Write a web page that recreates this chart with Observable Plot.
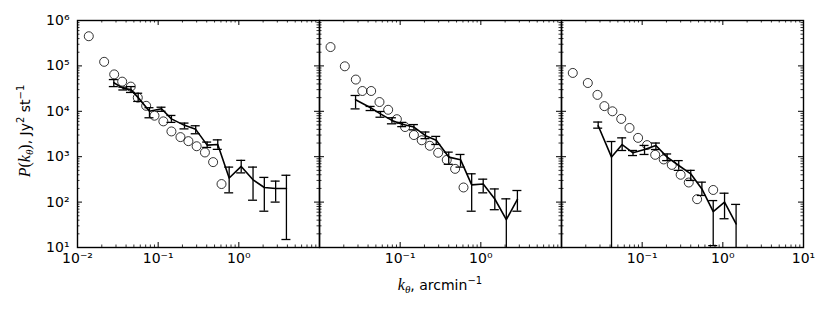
<!DOCTYPE html>
<html><head><meta charset="utf-8">
<script src="https://cdn.jsdelivr.net/npm/d3@7"></script>
<script src="https://cdn.jsdelivr.net/npm/@observablehq/plot@0.6"></script>
<style>body{margin:0;background:#fff}#chart{width:830px;height:311px}</style>
</head><body><div id="chart"></div>
<script>
// ---- data ----
const panels = ["a", "b", "c"];

// panel 1
const k1c = [0.0138, 0.0214, 0.0285, 0.0358, 0.0458, 0.0559, 0.071, 0.090, 0.116, 0.146, 0.189, 0.237, 0.30, 0.38, 0.48, 0.61];
const p1c = [4.5e5, 1.23e5, 6.5e4, 4.5e4, 3.5e4, 2.0e4, 1.32e4, 8.0e3, 6.0e3, 3.6e3, 2.7e3, 2.2e3, 1.7e3, 1.24e3, 7.6e2, 2.5e2];
const k1 = [0.0282, 0.037, 0.046, 0.0565, 0.078, 0.110, 0.146, 0.212, 0.292, 0.405, 0.548, 0.759, 1.07, 1.50, 2.07, 2.86, 3.89];
const p1 = [4.25e4, 3.2e4, 3.0e4, 2.0e4, 1.0e4, 1.14e4, 6.8e3, 4.9e3, 4.0e3, 1.8e3, 1.85e3, 3.4e2, 6.1e2, 3.1e2, 2.1e2, 2.0e2, 2.0e2];
const lo1 = [3.5e4, 2.95e4, 2.6e4, 1.65e4, 7.2e3, 1.0e4, 5.7e3, 4.1e3, 3.2e3, 1.6e3, 1.45e3, 1.6e2, 4.4e2, 1.1e2, 63, 1.0e2, 15];
const hi1 = [5.0e4, 3.4e4, 3.5e4, 2.5e4, 1.2e4, 1.23e4, 8.1e3, 5.5e3, 4.8e3, 2.1e3, 2.35e3, 5.9e2, 8.3e2, 5.9e2, 3.5e2, 2.9e2, 3.9e2];

// panel 2
const k2c = [0.0137, 0.0206, 0.0282, 0.034, 0.0437, 0.0554, 0.071, 0.091, 0.115, 0.148, 0.185, 0.233, 0.296, 0.378, 0.48, 0.61];
const p2c = [2.6e5, 9.8e4, 5.0e4, 2.8e4, 2.8e4, 1.6e4, 1.08e4, 6.7e3, 4.5e3, 3.0e3, 2.3e3, 1.74e3, 1.22e3, 8.5e2, 5.4e2, 2.1e2];
const k2 = [0.028, 0.043, 0.057, 0.079, 0.106, 0.148, 0.206, 0.28, 0.40, 0.56, 0.77, 1.07, 1.49, 2.07, 2.84];
const p2 = [1.8e4, 1.2e4, 8.8e3, 6.3e3, 5.2e3, 4.5e3, 2.9e3, 2.3e3, 9.8e2, 8.6e2, 2.4e2, 2.5e2, 1.17e2, 41, 1.15e2];
const lo2 = [1.13e4, 1.04e4, 7.4e3, 5.3e3, 4.6e3, 3.9e3, 2.5e3, 1.86e3, 6.8e2, 5.9e2, 63, 1.6e2, 68, 1, 63];
const hi2 = [2.23e4, 1.28e4, 9.9e3, 7.2e3, 5.7e3, 5.1e3, 3.5e3, 2.8e3, 1.26e3, 1.12e3, 4.2e2, 3.2e2, 1.95e2, 1.18e2, 1.8e2];

// panel 3
const k3c = [0.0138, 0.0212, 0.0279, 0.034, 0.0428, 0.055, 0.0697, 0.089, 0.115, 0.145, 0.185, 0.233, 0.30, 0.378, 0.48, 0.76];
const p3c = [7.0e4, 4.2e4, 2.3e4, 1.3e4, 1.0e4, 6.8e3, 4.3e3, 2.6e3, 1.8e3, 1.1e3, 8.7e2, 6.6e2, 4.0e2, 2.7e2, 1.16e2, 1.85e2];
const k3 = [0.0285, 0.0417, 0.0565, 0.077, 0.107, 0.148, 0.204, 0.284, 0.40, 0.55, 0.76, 1.05, 1.46];
const p3 = [4.8e3, 9.8e2, 1.85e3, 1.22e3, 1.44e3, 1.77e3, 9.8e2, 6.4e2, 4.2e2, 1.95e2, 62, 1.0e2, 33];
const lo3 = [4.25e3, 1, 1.37e3, 1.06e3, 1.12e3, 1.44e3, 8.2e2, 5.0e2, 3.0e2, 1.4e2, 11, 43, 1];
const hi3 = [5.8e3, 2.16e3, 2.6e3, 1.37e3, 1.77e3, 2.0e3, 1.15e3, 8.2e2, 5.0e2, 2.75e2, 1.08e2, 1.57e2, 89];

// ticks
const xDecades = [0.01, 0.1, 1, 10];
const yDecades = [10, 100, 1000, 1e4, 1e5, 1e6];
const minorMult = [2, 3, 4, 5, 6, 7, 8, 9];
const xTicksA = [0.01, 0.1, 1];
const xTicksB = [0.1, 1];
const xTicksC = [0.1, 1, 10];
const yTicksA = [10, 100, 1000, 1e4, 1e5, 1e6];

// ---- build tables ----
const circleSets = [[k1c, p1c], [k2c, p2c], [k3c, p3c]];
const lineSets = [[k1, p1, lo1, hi1], [k2, p2, lo2, hi2], [k3, p3, lo3, hi3]];
const circles = circleSets.flatMap(([ks, ps], j) => ks.map((k, i) => ({panel: panels[j], k, p: ps[i]})));
const lines = lineSets.flatMap(([ks, ps, los, his], j) => ks.map((k, i) => ({panel: panels[j], k, p: ps[i], lo: los[i], hi: his[i]})));
const xLabels = [xTicksA, xTicksB, xTicksC].flatMap((ts, j) => ts.map(k => ({panel: panels[j], k})));
const yLabels = yTicksA.map(v => ({panel: "a", v}));
const minorX = xDecades.slice(0, -1).flatMap(d => minorMult.map(m => d * m));
const minorY = yDecades.slice(0, -1).flatMap(d => minorMult.map(m => d * m));

const supMap = {"-": "⁻", "0": "⁰", "1": "¹", "2": "²", "3": "³", "4": "⁴", "5": "⁵", "6": "⁶", "7": "⁷", "8": "⁸", "9": "⁹"};
const fmt = v => "10" + String(Math.round(Math.log10(v))).split("").map(c => supMap[c]).join("");

// ---- layout ----
const W = 830, H = 311, mL = 77, mR = 27, mT = 20, mB = 64;
const fh = H - mT - mB;
const fw = (W - mL - mR) / 3;
const MAJ = 5, MIN = 2.5;

const plot = Plot.plot({
  width: W, height: H,
  marginLeft: mL, marginRight: mR, marginTop: mT, marginBottom: mB,
  style: {fontFamily: "DejaVu Sans", fontSize: "14px", background: "white", color: "black"},
  fx: {domain: panels, padding: 0, axis: null},
  x: {type: "log", domain: [0.01, 10], axis: null},
  y: {type: "log", domain: [10, 1e6], axis: null},
  marks: [
    // ticks
    Plot.tickX(xDecades, {x: d => d, insetTop: fh - MAJ, stroke: "black", strokeWidth: 1}),
    Plot.tickX(xDecades, {x: d => d, insetBottom: fh - MAJ, stroke: "black", strokeWidth: 1}),
    Plot.tickX(minorX, {x: d => d, insetTop: fh - MIN, stroke: "black", strokeWidth: 0.8}),
    Plot.tickX(minorX, {x: d => d, insetBottom: fh - MIN, stroke: "black", strokeWidth: 0.8}),
    Plot.tickY(yDecades, {y: d => d, insetRight: fw - MAJ, stroke: "black", strokeWidth: 1}),
    Plot.tickY(yDecades, {y: d => d, insetLeft: fw - MAJ, stroke: "black", strokeWidth: 1}),
    Plot.tickY(minorY, {y: d => d, insetRight: fw - MIN, stroke: "black", strokeWidth: 0.8}),
    Plot.tickY(minorY, {y: d => d, insetLeft: fw - MIN, stroke: "black", strokeWidth: 0.8}),
    // data
    Plot.ruleX(lines, {x: "k", y1: "lo", y2: "hi", fx: "panel", stroke: "black", strokeWidth: 1.3, clip: true}),
    Plot.ruleY(lines, {y: "lo", x1: "k", x2: "k", fx: "panel", insetLeft: -4.5, insetRight: -4.5, stroke: "black", strokeWidth: 1.3, clip: true}),
    Plot.ruleY(lines, {y: "hi", x1: "k", x2: "k", fx: "panel", insetLeft: -4.5, insetRight: -4.5, stroke: "black", strokeWidth: 1.3, clip: true}),
    Plot.line(lines, {x: "k", y: "p", fx: "panel", stroke: "black", strokeWidth: 1.6, clip: true}),
    Plot.dot(circles, {x: "k", y: "p", fx: "panel", r: 4.5, stroke: "black", strokeWidth: 0.8, fill: "none"}),
    Plot.frame({stroke: "black", strokeWidth: 1.4}),
    // tick labels
    Plot.text(xLabels, {x: "k", fx: "panel", text: d => fmt(d.k), frameAnchor: "bottom", lineAnchor: "top", dy: 6, fill: "black", fontSize: 14}),
    Plot.text(yLabels, {y: "v", fx: "panel", text: d => fmt(d.v), frameAnchor: "left", textAnchor: "end", dx: -8, fill: "black", fontSize: 14})
  ]
});

const svg = d3.select(plot);
// y label
const yl = svg.append("text")
  .attr("transform", "translate(30,131) rotate(-90)")
  .attr("text-anchor", "middle")
  .attr("fill", "black")
  .style("font-family", "DejaVu Sans").style("font-size", "14px");
yl.append("tspan").style("font-family", "Liberation Serif").style("font-style", "italic").style("font-size", "16px").text("P");
yl.append("tspan").style("font-family", "Liberation Serif").style("font-size", "16px").text("(");
yl.append("tspan").style("font-family", "Liberation Serif").style("font-style", "italic").style("font-size", "16px").text("k");
yl.append("tspan").style("font-family", "Liberation Serif").style("font-style", "italic").style("font-size", "11px").attr("dy", 3).text("θ");
yl.append("tspan").style("font-family", "Liberation Serif").style("font-size", "16px").attr("dy", -3).text(")");
yl.append("tspan").text(", Jy");
yl.append("tspan").style("font-size", "10px").attr("dy", -6).text("2");
yl.append("tspan").attr("dy", 6).text(" st");
yl.append("tspan").style("font-size", "10px").attr("dy", -6).text("−1");

// x label
const xl = svg.append("text")
  .attr("x", 440).attr("y", 290)
  .attr("text-anchor", "middle")
  .attr("fill", "black")
  .style("font-family", "DejaVu Sans").style("font-size", "14px");
xl.append("tspan").style("font-family", "Liberation Serif").style("font-style", "italic").style("font-size", "16px").text("k");
xl.append("tspan").style("font-family", "Liberation Serif").style("font-style", "italic").style("font-size", "11px").attr("dy", 3).text("θ");
xl.append("tspan").attr("dy", -3).text(", arcmin");
xl.append("tspan").style("font-size", "10px").attr("dy", -6).text("−1");

document.getElementById("chart").appendChild(plot);
</script>
</body></html>
